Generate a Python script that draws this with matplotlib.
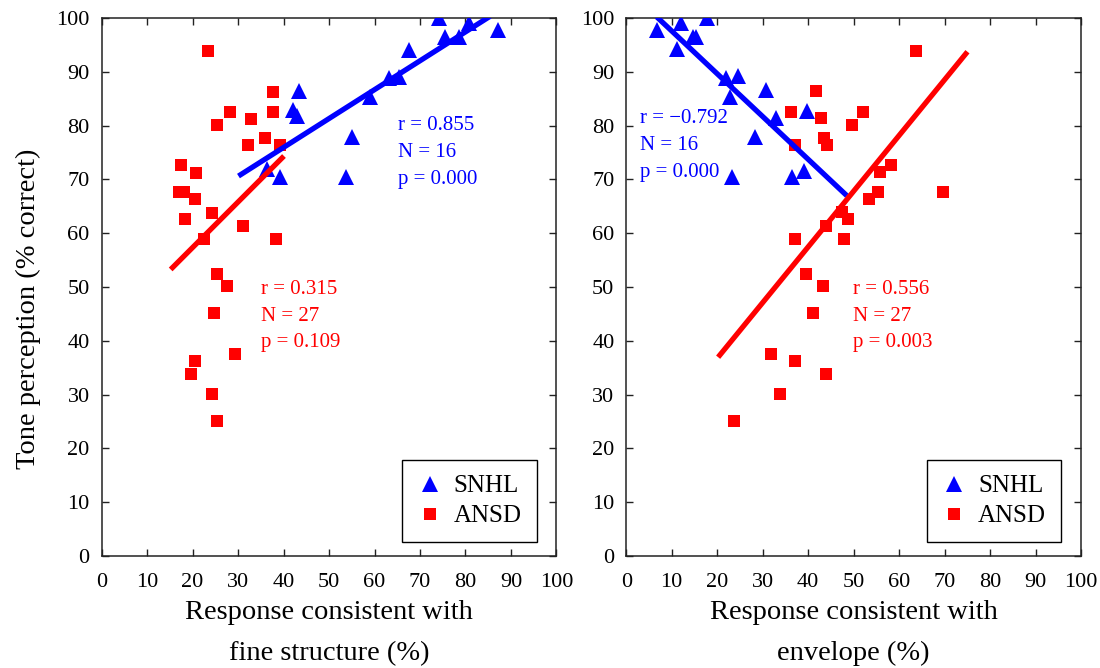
import numpy as np
import matplotlib
matplotlib.use("Agg")
import matplotlib.pyplot as plt
from matplotlib.lines import Line2D

plt.rcParams['font.family'] = ['Liberation Serif', 'DejaVu Serif']

# fine structure panel
fs_snhl_x = [43.3, 42.0, 43.0, 36.3, 39.2, 74.2, 80.8, 87.2, 75.4, 78.6, 67.6, 63.1, 65.3, 58.9, 55.0, 53.7]
fs_snhl_y = [86.4, 82.9, 81.8, 71.9, 70.4, 100.0, 99.0, 97.8, 96.5, 96.5, 94.1, 88.8, 89.1, 85.3, 77.8, 70.4]
fs_ansd_x = [23.3, 37.6, 28.3, 37.6, 32.9, 25.4, 35.9, 32.1, 39.2, 17.5, 20.8, 17.0, 18.2, 20.5,
             18.4, 24.3, 31.2, 22.5, 38.4, 25.4, 27.5, 24.7, 29.3, 20.5, 19.6, 24.3, 25.4]
fs_ansd_y = [93.9, 86.3, 82.5, 82.5, 81.3, 80.1, 77.6, 76.3, 76.4, 72.6, 71.2, 67.6, 67.6, 66.3,
             62.6, 63.8, 61.3, 58.9, 58.9, 52.5, 50.1, 45.1, 37.6, 36.3, 33.8, 30.1, 25.0]

# envelope panel
env_snhl_x = [6.7, 12.0, 17.8, 14.7, 15.3, 11.2, 21.9, 24.6, 22.8, 30.7, 32.9, 39.7, 28.3, 23.3, 36.4, 39.1]
env_snhl_y = [97.7, 99.0, 100.0, 96.5, 96.5, 94.2, 88.8, 89.2, 85.4, 86.6, 81.5, 82.8, 77.8, 70.4, 70.4, 71.6]
env_ansd_x = [41.7, 36.2, 42.9, 43.5, 44.2, 37.0, 63.8, 52.1, 49.6, 58.2, 55.8, 69.6, 55.4, 53.3,
              47.4, 48.8, 43.8, 37.1, 47.9, 39.5, 43.3, 41.1, 31.8, 37.1, 43.8, 33.8, 23.7]
env_ansd_y = [86.4, 82.6, 81.4, 77.6, 76.4, 76.4, 93.9, 82.6, 80.1, 72.6, 71.3, 67.6, 67.6, 66.3,
              64.0, 62.6, 61.3, 58.9, 58.9, 52.5, 50.1, 45.1, 37.6, 36.3, 33.8, 30.1, 25.0]

# x extent of the drawn regression lines
fs_snhl_fit_range = [30.1, 85.4]
fs_ansd_fit_range = [15.2, 40.1]
env_snhl_fit_range = [6.7, 48.5]
env_ansd_fit_range = [20.2, 75.0]

fs_snhl_stats = ["r = 0.855", "N = 16", "p = 0.000"]
fs_ansd_stats = ["r = 0.315", "N = 27", "p = 0.109"]
env_snhl_stats = ["r = \u22120.792", "N = 16", "p = 0.000"]
env_ansd_stats = ["r = 0.556", "N = 27", "p = 0.003"]

blue = "#0000ff"
red = "#ff0000"

fig = plt.figure(figsize=(11, 6.68), dpi=100)
ax1 = fig.add_axes([0.0923, 0.1677, 0.4136, 0.8054])
ax2 = fig.add_axes([0.5693, 0.1677, 0.4136, 0.8054])


def panel(ax, sx, sy, ax_, ay, srange, arange, sstats, astats, spos, apos, xlabel):
    ax.plot(sx, sy, '^', color=blue, markersize=11, markeredgewidth=0, zorder=3)
    ax.plot(ax_, ay, 's', color=red, markersize=8.8, markeredgewidth=0, zorder=3)
    for x, y, rng, c in [(sx, sy, srange, blue), (ax_, ay, arange, red)]:
        k, b = np.polyfit(x, y, 1)
        xs = np.array(rng)
        ax.plot(xs, k * xs + b, '-', color=c, linewidth=3.8, solid_capstyle='butt', zorder=4)
    for stats, pos, c in [(sstats, spos, blue), (astats, apos, red)]:
        for i, s in enumerate(stats):
            ax.text(pos[0], pos[1] - i * 5.0, s, color=c, fontsize=15, va='center', ha='left')
    ax.set_xlim(0, 100)
    ax.set_ylim(0, 100)
    ax.set_xticks(np.arange(0, 101, 10))
    ax.set_yticks(np.arange(0, 101, 10))
    ax.tick_params(direction='in', top=True, right=True, length=5, width=1,
                   labelsize=16, colors='#222222', labelcolor='black')
    ax.tick_params(axis='x', pad=12)
    ax.tick_params(axis='y', pad=8.5)
    for sp in ax.spines.values():
        sp.set_linewidth(1.1)
        sp.set_color('#222222')
    ax.set_xlabel(xlabel, fontsize=20.5, linespacing=1.85, labelpad=6)
    handles = [Line2D([], [], marker='^', color=blue, linestyle='none', markersize=11.5, markeredgewidth=0),
               Line2D([], [], marker='s', color=red, linestyle='none', markersize=8.5, markeredgewidth=0)]
    leg = ax.legend(handles, ["SNHL", "ANSD"], loc='lower left', bbox_to_anchor=(0.661, 0.0255),
                    fontsize=18, frameon=True, fancybox=False, edgecolor='black', framealpha=1,
                    handlelength=1.0, handletextpad=0.45, borderpad=0.6, labelspacing=0.3,
                    borderaxespad=0)
    leg.get_frame().set_linewidth(1.0)


panel(ax1, fs_snhl_x, fs_snhl_y, fs_ansd_x, fs_ansd_y, fs_snhl_fit_range, fs_ansd_fit_range,
      fs_snhl_stats, fs_ansd_stats, (65.2, 80.0), (35.1, 49.6),
      "Response consistent with\nfine structure (%)")
panel(ax2, env_snhl_x, env_snhl_y, env_ansd_x, env_ansd_y, env_snhl_fit_range, env_ansd_fit_range,
      env_snhl_stats, env_ansd_stats, (3.0, 81.3), (49.9, 49.6),
      "Response consistent with\nenvelope (%)")
ax1.set_ylabel("Tone perception (% correct)", fontsize=20.5)
ax1.yaxis.set_label_coords(-0.134, 0.46)

fig.savefig("out.png", dpi=100)
